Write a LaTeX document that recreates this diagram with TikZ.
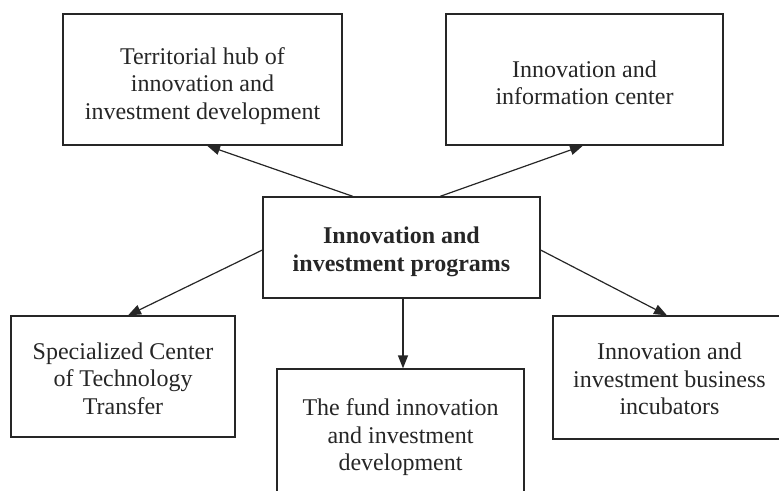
\documentclass[tikz,border=0pt]{standalone}
\usepackage{fontspec}
\setmainfont{Liberation Serif}
\usetikzlibrary{arrows.meta}
\newcommand{\dn}[1]{\rule{0pt}{#1}}
\begin{document}
\begin{tikzpicture}[x=1pt,y=-1pt,
  box/.style={draw=black!85, line width=1.2pt, align=center, inner sep=0pt,
    font=\fontsize{24}{27.5}\selectfont, text=black!85},
  conn/.style={draw=black!85, line width=1.2pt, -{Triangle[length=13pt,width=10pt]}}]
\useasboundingbox (0,0) rectangle (779,490);
\clip (0,0) rectangle (779,490);
\node[box, minimum width=279pt, minimum height=131pt] (tl) at (202.5,79.5)
  {\dn{30pt}Territorial hub of\\innovation and\\investment development};
\node[box, minimum width=277pt, minimum height=131pt] (tr) at (584.5,79.5)
  {\dn{23pt}Innovation and\\information center};
\node[box, minimum width=277pt, minimum height=101pt, font=\fontsize{24}{27.5}\selectfont\bfseries] (c) at (401.5,247.5)
  {\dn{25pt}Innovation and\\investment programs};
\node[box, minimum width=224pt, minimum height=121pt] (bl) at (123,376.5)
  {\dn{21pt}Specialized Center\\of Technology\\Transfer};
\node[box, minimum width=247pt, minimum height=132pt] (fc) at (400.5,435)
  {\dn{22pt}The fund innovation\\and investment\\development};
\node[box, minimum width=233pt, minimum height=123pt] (br) at (669.5,377.5)
  {\dn{20pt}Innovation and\\investment business\\incubators};
\draw[conn] ([xshift=-48.5pt]c.north) -- ([xshift=4.5pt]tl.south);
\draw[conn] ([xshift=38.5pt]c.north) -- ([xshift=-1.5pt]tr.south);
\draw[conn] ([yshift=-2.5pt]c.west) -- ([xshift=5pt]bl.north);
\draw[conn] ([xshift=1.5pt]c.south) -- ([xshift=2.5pt]fc.north);
\draw[conn] ([yshift=-2.5pt]c.east) -- ([xshift=-2.5pt]br.north);
\end{tikzpicture}
\end{document}
